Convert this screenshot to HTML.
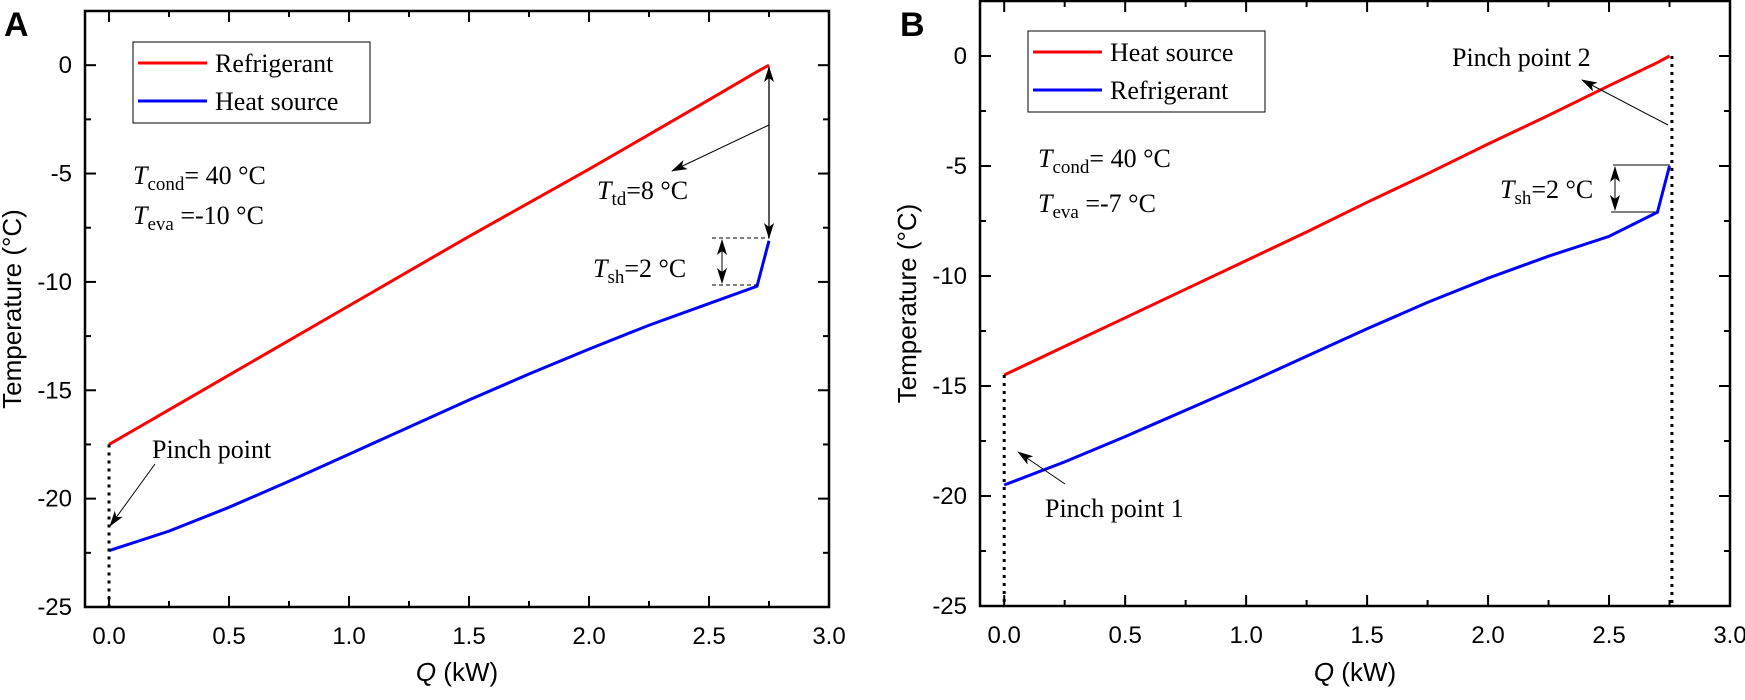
<!DOCTYPE html>
<html><head><meta charset="utf-8"><style>
body{margin:0;background:#fff}
svg text{font-family:"Liberation Sans",sans-serif}
.s{font-family:"Liberation Serif",serif;font-size:26px}
</style></head><body>
<svg id="c" width="1745" height="695" xmlns="http://www.w3.org/2000/svg"></svg>
<script>
const xTicks=[0,0.5,1.0,1.5,2.0,2.5,3.0];
const xTickLabels=["0.0","0.5","1.0","1.5","2.0","2.5","3.0"];
const yTicks=[0,-5,-10,-15,-20,-25];
const yTickLabels=["0","-5","-10","-15","-20","-25"];
const aQ=[0,0.25,0.5,0.75,1.0,1.25,1.5,1.75,2.0,2.25,2.5,2.7,2.75];
const aRed=[-17.5,-15.9,-14.3,-12.7,-11.1,-9.5,-7.9,-6.35,-4.8,-3.2,-1.6,-0.3,0];
const aBlue=[-22.4,-21.5,-20.4,-19.2,-17.95,-16.7,-15.45,-14.25,-13.1,-12.0,-11.0,-10.2,-8.1];
const bQ=[0,0.25,0.5,0.75,1.0,1.25,1.5,1.75,2.0,2.25,2.5,2.7,2.75];
const bRed=[-14.5,-13.2,-11.9,-10.6,-9.3,-8.0,-6.65,-5.35,-4.0,-2.7,-1.35,-0.3,0];
const bBlue=[-19.5,-18.45,-17.3,-16.1,-14.9,-13.65,-12.4,-11.2,-10.1,-9.1,-8.2,-7.1,-5.0];
const NS="http://www.w3.org/2000/svg";
const svg=document.getElementById('c');
function el(t,a,p){const e=document.createElementNS(NS,t);for(const k in a)e.setAttribute(k,a[k]);(p||svg).appendChild(e);return e;}
function panel(cfg){
  const g=el('g',{});
  
  
  const L=cfg.L,R=cfg.R,T=cfg.T,B=cfg.B;
  const xs=v=>L+(v+0.1)/3.1*(R-L);
  const ys=v=>B-(v+25)/27.5*(B-T);
  const mk=(q,arr,col,nm)=>{const p=el('polyline',{points:q.map((v,i)=>xs(v)+','+ys(arr[i])).join(' '),fill:'none',stroke:col,'stroke-width':3},g);
    };
  mk(cfg.q,cfg.red,'#f00',cfg.redName);mk(cfg.q,cfg.blue,'#00f',cfg.blueName);
  const f=el('rect',{x:L,y:T,width:R-L,height:B-T,fill:'none',stroke:'#000','stroke-width':2.5},g);
  
  for(let v=0;v<=3.0001;v+=0.25){const x=xs(v),len=Math.abs(v*2-Math.round(v*2))<1e-6?11:6;
    el('line',{x1:x,x2:x,y1:B,y2:B-len,stroke:'#000','stroke-width':2},g);el('line',{x1:x,x2:x,y1:T,y2:T+len,stroke:'#000','stroke-width':2},g);}
  for(let v=-25;v<=2.5;v+=2.5){const y=ys(v),len=(v%5===0)?11:6;
    el('line',{x1:L,x2:L+len,y1:y,y2:y,stroke:'#000','stroke-width':2},g);el('line',{x1:R,x2:R-len,y1:y,y2:y,stroke:'#000','stroke-width':2},g);}
  xTicks.forEach((v,i)=>{const t=el('text',{x:xs(v),y:B+37,'font-size':24,'text-anchor':'middle'},g);t.textContent=xTickLabels[i];
    });
  yTicks.forEach((v,i)=>{const t=el('text',{x:L-13,y:ys(v)+8,'font-size':24,'text-anchor':'end'},g);t.textContent=yTickLabels[i];
    });
  const xt=el('text',{x:(L+R)/2,y:681,'font-size':26,'text-anchor':'middle'},g);
  xt.innerHTML='<tspan font-style="italic">Q</tspan> (kW)';
  
  const yt=el('text',{x:0,y:0,'font-size':26,'text-anchor':'middle',transform:`translate(${L-64},${(T+B)/2}) rotate(-90)`},g);
  yt.textContent='Temperature (°C)';
  
  const pl=el('text',{x:cfg.letterX,y:36,'font-size':34,'font-weight':'bold'},g);pl.textContent=cfg.letter;
  
  const lg=el('g',{},g);
  const lx=cfg.legX,ly=cfg.legY;
  el('rect',{x:lx,y:ly,width:237,height:81,fill:'#fff',stroke:'#000','stroke-width':1},lg);
  [[cfg.leg1,'#f00',21],[cfg.leg2,'#00f',59]].forEach(e=>{
    el('line',{x1:lx+5,x2:lx+74,y1:ly+e[2],y2:ly+e[2],stroke:e[1],'stroke-width':3},lg);
    const t=el('text',{x:lx+82,y:ly+e[2]+9,class:'s'},lg);t.textContent=e[0];
    });
  return {g,xs,ys};
}
function txt(g,x,y,html,nm){const t=el('text',{x,y,class:'s'},g);t.innerHTML=html;return t;}
const defs=el('defs',{});
defs.innerHTML='<marker id="ah" markerWidth="16" markerHeight="10" refX="15" refY="5" orient="auto-start-reverse" markerUnits="userSpaceOnUse"><path d="M0,0 L16,5 L0,10 L4,5 z" fill="#000"/></marker>';
function arrow(g,x1,y1,x2,y2,both,nm,w){const l=el('line',{x1,y1,x2,y2,stroke:'#000','stroke-width':w||1,'marker-end':'url(#ah)'},g);if(both)l.setAttribute('marker-start','url(#ah)');
  }
function dline(g,x1,y1,x2,y2,dash,w,nm){const l=el('line',{x1,y1,x2,y2,stroke:'#000','stroke-width':w,'stroke-dasharray':dash},g);}
const A=panel({name:'panel-a',L:85,R:829,T:11,B:607,q:aQ,red:aRed,blue:aBlue,redName:'refrigerant-line',blueName:'heat-source-line',letter:'A',letterX:4,legX:133,legY:42,leg1:'Refrigerant',leg2:'Heat source'});
const sub='<tspan font-style="italic">T</tspan><tspan font-size="19" dy="6">';
txt(A.g,133,184,sub+'cond</tspan><tspan dy="-6">= 40 °C</tspan>','t-cond-label');
txt(A.g,133,224,sub+'eva</tspan><tspan dy="-6"> =-10 °C</tspan>','t-eva-label');
txt(A.g,597,199,sub+'td</tspan><tspan dy="-6">=8 °C</tspan>','t-td-label');
txt(A.g,593,277,sub+'sh</tspan><tspan dy="-6">=2 °C</tspan>','t-sh-label');
txt(A.g,152,458,'Pinch point','pinch-point-label');
arrow(A.g,769,67,769,238,true,'t-td-arrow',1.3);
arrow(A.g,769,125,672,171,false,'t-td-pointer');
dline(A.g,712,238,769,238,'4,3',1,'sh-top-dash');dline(A.g,712,285,758,285,'4,3',1,'sh-bottom-dash');
arrow(A.g,722,240,722,283,true,'t-sh-arrow');
dline(A.g,A.xs(0),A.ys(-17.5),A.xs(0),607,'3,5',3,'pinch-dotted-line');
arrow(A.g,155,464,110,526,false,'pinch-pointer');
const Bp=panel({name:'panel-b',L:980,R:1730,T:1,B:606,q:bQ,red:bRed,blue:bBlue,redName:'heat-source-line',blueName:'refrigerant-line',letter:'B',letterX:900,legX:1028,legY:31,leg1:'Heat source',leg2:'Refrigerant'});
txt(Bp.g,1038,167,sub+'cond</tspan><tspan dy="-6">= 40 °C</tspan>','t-cond-label');
txt(Bp.g,1038,212,sub+'eva</tspan><tspan dy="-6"> =-7 °C</tspan>','t-eva-label');
txt(Bp.g,1500,198,sub+'sh</tspan><tspan dy="-6">=2 °C</tspan>','t-sh-label');
txt(Bp.g,1452,66,'Pinch point 2','pinch-point-2-label');
txt(Bp.g,1045,517,'Pinch point 1','pinch-point-1-label');
dline(Bp.g,Bp.xs(2.76),Bp.ys(0),Bp.xs(2.76),606,'3,5',3,'pinch-dotted-line-2');
dline(Bp.g,Bp.xs(0),Bp.ys(-14.5),Bp.xs(0),606,'3,5',3,'pinch-dotted-line-1');
arrow(Bp.g,1668,125,1582,80,false,'pinch-2-pointer');
arrow(Bp.g,1065,484,1018,452,false,'pinch-1-pointer');
dline(Bp.g,1613,165,1670,165,'none',1,'sh-top-line');dline(Bp.g,1611,212,1655,212,'none',1,'sh-bottom-line');
arrow(Bp.g,1615,167,1615,210,true,'t-sh-arrow');
</script>
</body></html>
